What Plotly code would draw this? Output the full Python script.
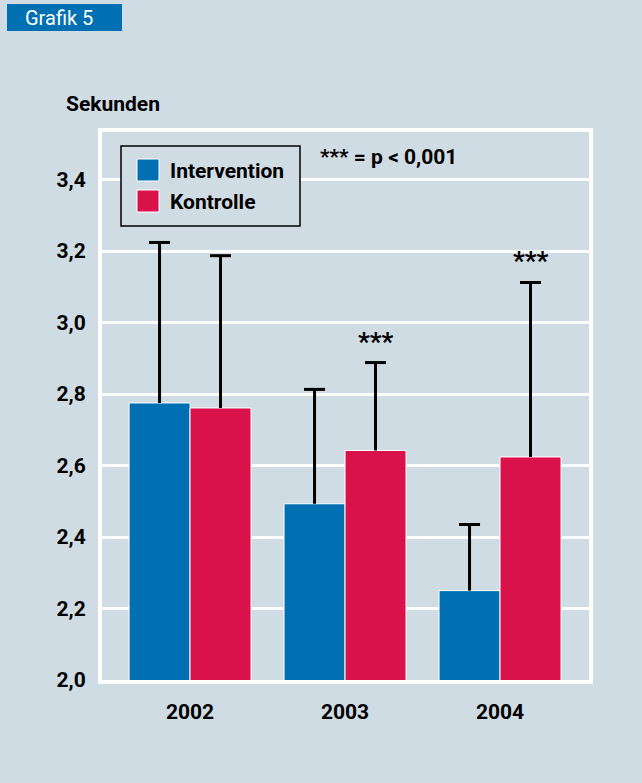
import plotly.graph_objects as go

years = ["2002", "2003", "2004"]
intervention = [2.775, 2.493, 2.250]
intervention_upper = [3.224, 2.813, 2.435]
kontrolle = [2.761, 2.642, 2.624]
kontrolle_upper = [3.187, 2.888, 3.112]
y_ticks = [2.0, 2.2, 2.4, 2.6, 2.8, 3.0, 3.2, 3.4]
sig_marks = ["", "***", "***"]

BG = "#d0dce4"
BLUE = "#0070b2"
RED = "#da124c"
FONT = "Roboto, Lato, sans-serif"

W, H = 642, 783
L, R, T, B = 102, 589, 132, 680
BARGAP = 0.213
OFF = (1 - BARGAP) / 4  # centre offset of each bar within its group


def X(px):
    return (px - L) / (R - L)


def Y(py):
    return (B - py) / (B - T)


xpos = list(range(len(years)))

fig = go.Figure()
for name, vals, upper, col, sign in [("Intervention", intervention, intervention_upper, BLUE, -1),
                                     ("Kontrolle", kontrolle, kontrolle_upper, RED, 1)]:
    fig.add_trace(go.Bar(
        x=xpos, y=vals, name=name,
        marker=dict(color=col, line=dict(color="white", width=1)),
        error_y=dict(type="data", symmetric=False,
                     array=[u - v for u, v in zip(upper, vals)],
                     arrayminus=[0] * len(years),
                     color="black", thickness=3, width=0),
        showlegend=False,
    ))
    # caps of the upward error bars
    fig.add_trace(go.Scatter(
        x=[p + sign * OFF for p in xpos], y=upper, mode="markers",
        marker=dict(symbol="line-ew", size=15, line=dict(color="black", width=3)),
        showlegend=False, hoverinfo="skip",
    ))

annotations = []
shapes = []

# significance stars above Kontrolle bars
for i, s in enumerate(sig_marks):
    if s:
        annotations.append(dict(
            x=xpos[i] + OFF, y=kontrolle_upper[i], xref="x", yref="y",
            text="<b>" + s + "</b>", showarrow=False, yanchor="bottom", yshift=4,
            font=dict(family=FONT, size=26, color="black")))

# title box
shapes.append(dict(type="rect", xref="paper", yref="paper",
                   x0=X(7), x1=X(122), y0=Y(31), y1=Y(4),
                   fillcolor=BLUE, line=dict(width=0), layer="above"))
annotations.append(dict(x=X(23), y=Y(17.5), xref="paper", yref="paper",
                        text="Grafik 5", showarrow=False, xanchor="left", yanchor="middle",
                        font=dict(family=FONT, size=20, color="white")))
annotations.append(dict(x=X(64), y=Y(104), xref="paper", yref="paper",
                        text="<b>Sekunden</b>", showarrow=False, xanchor="left", yanchor="middle",
                        font=dict(family=FONT, size=21, color="black")))
annotations.append(dict(x=X(318), y=Y(157), xref="paper", yref="paper",
                        text="<b>*** = p &lt; 0,001</b>", showarrow=False, xanchor="left", yanchor="middle",
                        font=dict(family=FONT, size=21, color="black")))

# legend box
shapes.append(dict(type="rect", xref="paper", yref="paper",
                   x0=X(121), x1=X(300), y0=Y(226), y1=Y(146),
                   fillcolor=BG, line=dict(color="black", width=1.5), layer="above"))
for (name, col, yc) in [("Intervention", BLUE, 170), ("Kontrolle", RED, 201)]:
    shapes.append(dict(type="rect", xref="paper", yref="paper",
                       x0=X(137), x1=X(159), y0=Y(yc + 11), y1=Y(yc - 11),
                       fillcolor=col, line=dict(color="white", width=1), layer="above"))
    annotations.append(dict(x=X(168), y=Y(yc + 1), xref="paper", yref="paper",
                            text="<b>" + name + "</b>", showarrow=False,
                            xanchor="left", yanchor="middle",
                            font=dict(family=FONT, size=21, color="black")))

fig.update_layout(
    width=W, height=H,
    margin=dict(l=L, r=W - R, t=T, b=H - B, pad=0),
    paper_bgcolor=BG, plot_bgcolor=BG,
    barmode="group", bargap=BARGAP, bargroupgap=0,
    font=dict(family=FONT, color="black"),
    xaxis=dict(range=[-0.568, 2.574], tickvals=xpos, ticktext=["<b>%s</b>" % y for y in years],
               showgrid=False, zeroline=False, showline=True, linecolor="white", linewidth=4,
               mirror=True, ticks="", ticklabelstandoff=10,
               tickfont=dict(family=FONT, size=21, color="black")),
    yaxis=dict(range=[2.0, 3.533], tickvals=y_ticks,
               ticktext=["<b>%s</b>" % ("%.1f" % v).replace(".", ",") for v in y_ticks],
               showgrid=True, gridcolor="white", gridwidth=3, zeroline=False,
               showline=True, linecolor="white", linewidth=4, mirror=True,
               ticks="", ticklabelstandoff=8,
               tickfont=dict(family=FONT, size=21, color="black")),
    shapes=shapes, annotations=annotations,
)

fig.write_html("out.html", config={"displayModeBar": False},
               post_script="document.body.style.margin='0';document.body.style.background='%s';" % BG)
